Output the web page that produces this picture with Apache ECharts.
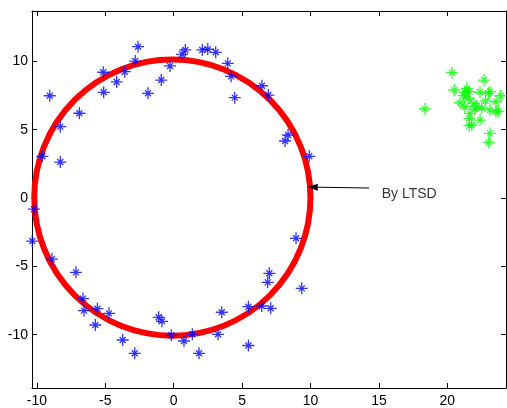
<!DOCTYPE html>
<html>
<head>
<meta charset="utf-8">
<script src="https://cdn.jsdelivr.net/npm/echarts@6/dist/echarts.min.js"></script>
<style>
html,body{margin:0;padding:0;background:#fff;}
#chart{width:507px;height:408px;}
</style>
</head>
<body>
<div id="chart"></div>
<script>
// ---- data ----
var blueX = [-9.06,-9.6,-8.29,-8.29,-6.9,-5.15,-5.12,-4.17,-3.58,-2.81,-2.61,-1.88,-0.91,-0.27,0.61,0.85,2.09,2.49,3.07,3.95,4.19,4.46,6.45,6.92,8.36,8.14,9.91,
  -10.22,-10.34,-8.9,-7.15,-6.63,-6.56,-5.58,-5.73,-4.73,-3.73,-2.85,-1.1,-0.86,-0.18,0.75,1.36,1.85,3.24,3.51,5.46,5.46,6.43,7.09,6.99,6.87,8.94,9.36];
var blueY = [7.48,3.05,5.22,2.63,6.2,9.2,7.73,8.49,9.24,10.02,11.07,7.66,8.63,9.66,10.51,10.83,10.83,10.88,10.66,9.85,8.9,7.34,8.21,7.53,4.61,4.17,3.05,
  -0.82,-3.15,-4.47,-5.44,-7.36,-8.24,-8.1,-9.29,-8.44,-10.39,-11.36,-8.73,-9.02,-10.04,-10.46,-9.97,-11.36,-9.97,-8.36,-7.95,-10.79,-7.9,-8.07,-5.51,-6.17,-2.95,-6.61];
var greenX = [20.34,18.37,22.68,20.51,21.42,21.29,21.61,22.39,23.12,23.0,23.9,23.56,20.93,21.54,21.9,22.15,22.51,21.29,23.12,23.73,23.56,21.66,21.61,22.39,21.61,23.12,23.03,22.03,21.78,21.2,22.8];
var greenY = [9.17,6.51,8.63,7.9,8.02,7.73,7.78,7.73,7.78,7.66,7.48,7.04,6.97,7.29,6.93,6.73,6.56,6.68,6.44,6.36,6.31,6.19,5.83,5.7,5.29,4.73,4.07,6.49,5.34,7.5,7.1];
var circleFit = [-0.1, 0.03, 10.1]; // centre x, centre y, radius
var arrowLine = [14.28, 0.73, 9.8, 0.8]; // from x, from y, tip x, tip y
var labelPos = [15.2, 0.29];
var labelText = 'By LTSD';
var xTicks = [-10,-5,0,5,10,15,20];
var yTicks = [-10,-5,0,5,10];
var xRange = [-10.36, 24.29];
var yRange = [-13.9, 13.68];

function pairs(xs, ys){ return xs.map(function(x,i){ return [x, ys[i]]; }); }

var star = 'path://M6,0L6,12M0,6L12,6M3,3L9,9M3,9L9,3';
var font = 'Liberation Sans, Arial, sans-serif';

function xAx(pos, labels){
  return {
    type:'value', position:pos, min:xRange[0], max:xRange[1],
    axisLine:{show:true, onZero:false, lineStyle:{color:'#000', width:1}},
    axisTick:{show:true, inside:true, length:5, customValues:xTicks, lineStyle:{color:'#000'}},
    axisLabel:{show:labels, customValues:xTicks, color:'#000', fontSize:14, fontFamily:font, margin:6},
    splitLine:{show:false}
  };
}
function yAx(pos, labels){
  return {
    type:'value', position:pos, min:yRange[0], max:yRange[1],
    axisLine:{show:true, onZero:false, lineStyle:{color:'#000', width:1}},
    axisTick:{show:true, inside:true, length:5, customValues:yTicks, lineStyle:{color:'#000'}},
    axisLabel:{show:labels, customValues:yTicks, color:'#000', fontSize:14, fontFamily:font, margin:4},
    splitLine:{show:false}
  };
}

var chart = echarts.init(document.getElementById('chart'), null, {renderer:'canvas'});
chart.setOption({
  animation:false,
  backgroundColor:'#fff',
  grid:{left:32, right:1, top:11, bottom:20, containLabel:false},
  xAxis:[xAx('bottom', true), xAx('top', false)],
  yAxis:[yAx('left', true), yAx('right', false)],
  series:[
    {
      type:'custom', clip:false, z:2,
      data:[circleFit],
      encode:{x:0, y:1},
      renderItem:function(params, api){
        var c = api.coord([api.value(0), api.value(1)]);
        var s = api.size([api.value(2), api.value(2)]);
        return {type:'circle', shape:{cx:c[0], cy:c[1], r:(s[0]+s[1])/2},
          style:{fill:'none', stroke:'#ff0000', lineWidth:6}};
      }
    },
    {
      type:'scatter', clip:false, z:3,
      data:pairs(blueX, blueY),
      symbol:star, symbolSize:12,
      itemStyle:{color:'rgba(0,0,0,0)', borderColor:'#0000ff', borderWidth:1.3}
    },
    {
      type:'scatter', clip:false, z:3,
      data:pairs(greenX, greenY),
      symbol:star, symbolSize:12,
      itemStyle:{color:'rgba(0,0,0,0)', borderColor:'#00ff00', borderWidth:1.3}
    },
    {
      type:'custom', clip:false, z:4,
      data:[arrowLine],
      encode:{x:[0,2], y:[1,3]},
      renderItem:function(params, api){
        var a = api.coord([api.value(0), api.value(1)]);
        var b = api.coord([api.value(2), api.value(3)]);
        var dx = a[0]-b[0], dy = a[1]-b[1];
        var L = Math.sqrt(dx*dx+dy*dy); dx/=L; dy/=L;
        var hl = 10, hw = 3.5;
        var bx = b[0]+dx*hl, by = b[1]+dy*hl;
        return {type:'group', children:[
          {type:'line', shape:{x1:a[0], y1:a[1], x2:bx, y2:by}, style:{stroke:'#000', lineWidth:1}},
          {type:'polygon', shape:{points:[[b[0],b[1]],[bx-dy*hw, by+dx*hw],[bx+dy*hw, by-dx*hw]]}, style:{fill:'#000'}}
        ]};
      }
    },
    {
      type:'scatter', clip:false, z:4,
      data:[labelPos],
      symbolSize:0,
      label:{show:true, position:[0,0], align:'left', verticalAlign:'middle',
        formatter:labelText, color:'#000', fontSize:14, fontFamily:font}
    }
  ]
});
</script>
</body>
</html>
